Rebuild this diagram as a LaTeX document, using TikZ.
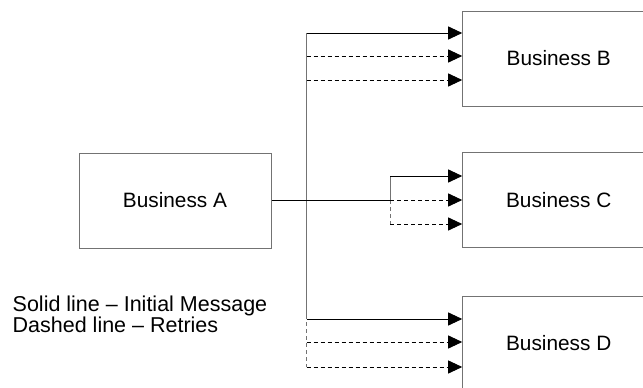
\documentclass[tikz,border=0pt]{standalone}
\usepackage{fontspec}
\setmainfont{Liberation Sans}
\usetikzlibrary{arrows.meta}

\begin{document}
\begin{tikzpicture}[x=1pt, y=-1pt, font=\fontsize{20.8}{24}\selectfont,
  biz/.style={rectangle, draw=black!55, line width=1pt, minimum width=192pt, minimum height=95pt, inner sep=0pt},
  key/.style={anchor=base west, inner sep=0pt, font=\fontsize{21.5}{24}\selectfont},
  msg/.style={black, line width=0.9pt, -{Triangle[length=14pt, width=13pt]}},
  retry/.style={msg, dash pattern=on 4pt off 3pt},
  trunk/.style={black!55, line width=1pt}]
  \useasboundingbox (0,0) rectangle (643,388);
  \node[biz] (A) at (175, 200.5) {Business A};
  \node[biz] (B) at (558.7, 58.5) {Business B};
  \node[biz] (C) at (558.7, 200) {Business C};
  \node[biz] (D) at (558.7, 343.5) {Business D};
  \node[key] (solid) at (12.5, 311.5) {Solid line – Initial Message};
  \node[key] (dash) at (12.5, 332.5) {Dashed line – Retries};
  % trunk and branch points
  \coordinate (b1) at (306.7, 33);
  \coordinate (b2) at (306.7, 56);
  \coordinate (b3) at (306.7, 80);
  \coordinate (c1) at (390, 176);
  \coordinate (c2) at (390, 200);
  \coordinate (c3) at (390, 224);
  \coordinate (d1) at (306.7, 319);
  \coordinate (d2) at (306.7, 342);
  \coordinate (d3) at (306.7, 367);
  \draw[trunk] (b1) -- (d1);
  \draw[trunk, dash pattern=on 4pt off 3pt] (b2) -- (d3);
  \draw[trunk] (c1) -- (c2);
  \draw[trunk, dash pattern=on 4pt off 3pt] (c2) -- (c3);
  \draw[black, line width=0.9pt] (A.east |- c2) -- (c2);
  \draw[msg] (b1) -- (b1 -| B.west);
  \draw[retry] (b2) -- (b2 -| B.west);
  \draw[retry] (b3) -- (b3 -| B.west);
  \draw[msg] (c1) -- (c1 -| C.west);
  \draw[retry] (c2) -- (c2 -| C.west);
  \draw[retry] (c3) -- (c3 -| C.west);
  \draw[msg] (d1) -- (d1 -| D.west);
  \draw[retry] (d2) -- (d2 -| D.west);
  \draw[retry] (d3) -- (d3 -| D.west);
\end{tikzpicture}
\end{document}
